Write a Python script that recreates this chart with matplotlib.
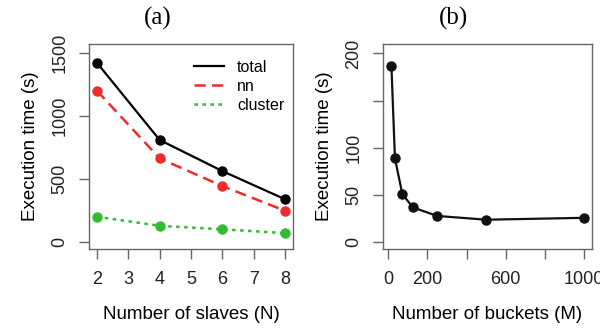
import numpy as np
import matplotlib.pyplot as plt
from matplotlib.transforms import Bbox, TransformedBbox

plt.rcParams['font.family'] = ['Liberation Sans', 'DejaVu Sans']

# panel (a): execution time vs number of slaves
slaves = [2, 4, 6, 8]
total = [1423, 810, 563, 339]
nn = [1201, 664, 444, 248]
cluster = [201, 129, 101, 71]

# panel (b): execution time vs number of buckets
buckets = [16, 34, 72, 126, 250, 500, 1000]
bucket_time = [187, 89, 51, 37, 28, 24, 26]

red = '#EE2C2C'
green = '#33BB33'
frame = '#666666'

fig = plt.figure(figsize=(6.09, 3.28), dpi=100)
ax1 = fig.add_axes([89/609, 1-249/328, 204/609, 205/328])
ax2 = fig.add_axes([383/609, 1-249/328, 209/609, 205/328])


def r_style(ax):
    for s in ax.spines.values():
        s.set_color(frame)
        s.set_linewidth(1.0)
    ax.tick_params(direction='out', length=7, width=1.0, color=frame,
                   labelsize=13, labelcolor='#222222')
    ax.tick_params(axis='x', pad=9)
    ax.tick_params(axis='y', pad=8)
    for lab in ax.get_yticklabels():
        lab.set_rotation(90)
        lab.set_va('center')


ax1.plot(slaves, total, color='black', lw=1.6, marker='o', ms=6.5, label='total')
ax1.plot(slaves, nn, color=red, lw=1.8, marker='o', ms=6.5,
         dashes=(4.5, 2.5), label='nn')
ax1.plot(slaves, cluster, color=green, lw=1.8, marker='o', ms=6.5,
         dashes=(1.4, 1.8), label='cluster')
ax1.set_xlim(1.75, 8.25)
ax1.set_ylim(-55, 1571)
ax1.set_xticks(range(2, 9))
ax1.set_yticks([0, 500, 1000, 1500])
ax1.set_xlabel('Number of slaves (N)', fontsize=13.5, labelpad=13)
ax1.set_ylabel('Execution time (s)', fontsize=13.5, labelpad=9)
leg = ax1.legend(loc='upper right', bbox_to_anchor=(1.0, 0.965),
                 frameon=False, fontsize=11.5,
                 handlelength=1.9, handletextpad=0.8, labelspacing=0.25,
                 borderaxespad=0.0, borderpad=0.55)
for h in leg.legend_handles:
    h.set_marker('')
r_style(ax1)

ax2.plot(buckets, bucket_time, color='#111111', lw=1.6, marker='o', ms=6.5)
ax2.set_xlim(-27, 1041)
ax2.set_ylim(-7, 210)
ax2.set_xticks([0, 200, 400, 600, 800, 1000])
ax2.set_xticklabels(['0', '200', '', '600', '', '1000'])
ax2.set_yticks([0, 50, 100, 150, 200])
ax2.set_yticklabels(['0', '50', '100', '', '200'])
ax2.set_xlabel('Number of buckets (M)', fontsize=13.5, labelpad=13)
ax2.set_ylabel('Execution time (s)', fontsize=13.5, labelpad=9)
r_style(ax2)

# the original device cut off the last tick label at the right edge
clip = TransformedBbox(Bbox([[0, 0], [600/609, 1]]), fig.transFigure)
for lab in ax2.get_xticklabels():
    lab.set_clip_box(clip)
    lab.set_clip_on(True)

fig.text(158/609, 1-18/328, '(a)', family='Liberation Serif', fontsize=18,
         ha='center', va='center')
fig.text(453/609, 1-18/328, '(b)', family='Liberation Serif', fontsize=18,
         ha='center', va='center')

fig.savefig('out.png', dpi=100)
